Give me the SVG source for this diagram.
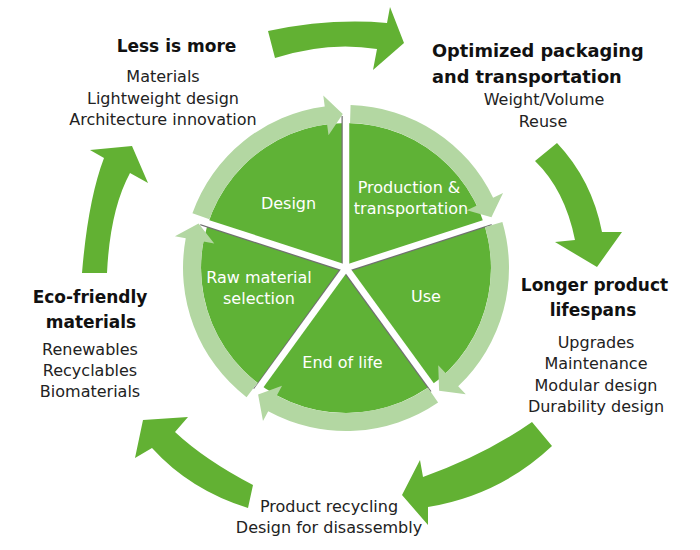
<svg xmlns="http://www.w3.org/2000/svg" xmlns:xlink="http://www.w3.org/1999/xlink" width="700" height="550" viewBox="0 0 700 550">
<defs>
<style>
.arrow{fill:#62b133}
.ring{fill:#b3d7a2}
.pie{fill:#5fb236}
.gap{stroke:#ffffff;stroke-width:6.5}
.shadow{stroke:#707070;stroke-width:2}
.title{font-family:"DejaVu Sans",sans-serif;font-weight:bold;font-size:17px;fill:#111}
.big{font-size:17.8px}
.sub{font-family:"DejaVu Sans",sans-serif;font-size:16px;fill:#222;text-anchor:middle}
.lbl{font-family:"DejaVu Sans",sans-serif;font-size:16px;fill:#ffffff;text-anchor:middle}
</style>
<path id="ringArrow" class="ring" d="M -153.56 -54.69 A 163 163 0 0 1 -21.27 -161.60 L -22.71 -172.50 L -3.22 -153.97 L -17.49 -132.85 L -18.92 -143.75 A 145 145 0 0 0 -136.60 -48.65 Z"/>
</defs>
<rect width="700" height="550" fill="#ffffff"/>

<g id="connectors">
<path class="arrow" d="M 268 31 Q 330 18 387 23 L 390 7 L 404 43 L 373 70 L 377 49 Q 328 41 275 58 Z"/>
<path class="arrow" d="M 557 143 Q 592 180 602 232 L 622 232 L 597 267 L 555 242 L 575 240 Q 565 190 535 161 Z"/>
<path class="arrow" d="M 532 422 Q 485 455 423 477 L 420 460 L 402 495 L 428 525 L 428 507 Q 500 495 552 446 Z"/>
<path class="arrow" d="M 253 485 Q 205 460 175 432 L 188 417 L 143 420 L 135 458 L 152 448 Q 190 490 248 508 Z"/>
<path class="arrow" d="M 82 273 Q 88 200 104 158 L 90 150 L 132 146 L 148 183 L 130 173 Q 110 210 107 273 Z"/>
</g>

<g id="cycle" transform="translate(346,268)">
<circle class="pie" cx="0" cy="0" r="145"/>
<g id="separators">
<line class="shadow" x1="-3.5" y1="0" x2="-3.5" y2="-152"/>
<line class="shadow" x1="1.08" y1="3.33" x2="145.6" y2="-43.6"/>
<line class="shadow" x1="-2.83" y1="2.06" x2="85.3" y2="123.3"/>
<line class="shadow" x1="-2.83" y1="-2.06" x2="-91.9" y2="121.2"/>
<line class="shadow" x1="-1.08" y1="3.33" x2="-145.6" y2="-43.6"/>
<line class="gap" x1="0" y1="0" x2="0" y2="-170"/>
<line class="gap" x1="0" y1="0" x2="161.7" y2="-52.5"/>
<line class="gap" x1="0" y1="0" x2="99.9" y2="137.5"/>
<line class="gap" x1="0" y1="0" x2="-99.9" y2="137.5"/>
<line class="gap" x1="0" y1="0" x2="-161.7" y2="-52.5"/>
</g>
<use xlink:href="#ringArrow" href="#ringArrow"/>
<use xlink:href="#ringArrow" href="#ringArrow" transform="rotate(72)"/>
<use xlink:href="#ringArrow" href="#ringArrow" transform="rotate(144)"/>
<use xlink:href="#ringArrow" href="#ringArrow" transform="rotate(216)"/>
<use xlink:href="#ringArrow" href="#ringArrow" transform="rotate(288)"/>
</g>

<g id="design"><text class="lbl" x="288.5" y="209">Design</text></g>
<g id="production"><text class="lbl" x="409" y="193">Production &amp;</text><text class="lbl" x="411" y="214">transportation</text></g>
<g id="use"><text class="lbl" x="426" y="302">Use</text></g>
<g id="end-of-life"><text class="lbl" x="342.5" y="368">End of life</text></g>
<g id="raw-material"><text class="lbl" x="259" y="283">Raw material</text><text class="lbl" x="259" y="304">selection</text></g>

<g id="less-is-more">
<text class="title" x="176.5" y="52" text-anchor="middle">Less is more</text>
<text class="sub" x="163" y="82">Materials</text>
<text class="sub" x="163" y="104">Lightweight design</text>
<text class="sub" x="163" y="125">Architecture innovation</text>
</g>
<g id="packaging">
<text class="title big" x="432" y="57">Optimized packaging</text>
<text class="title big" x="432" y="83">and transportation</text>
<text class="sub" x="544" y="105">Weight/Volume</text>
<text class="sub" x="543" y="127">Reuse</text>
</g>
<g id="lifespans">
<text class="title" x="594.5" y="291" text-anchor="middle">Longer product</text>
<text class="title" x="593" y="316" text-anchor="middle">lifespans</text>
<text class="sub" x="596" y="348">Upgrades</text>
<text class="sub" x="596" y="369">Maintenance</text>
<text class="sub" x="596" y="391">Modular design</text>
<text class="sub" x="596" y="412">Durability design</text>
</g>
<g id="end-of-life-outer">
<text class="sub" x="329" y="512">Product recycling</text>
<text class="sub" x="329" y="533">Design for disassembly</text>
</g>
<g id="eco-materials">
<text class="title" x="90" y="303" text-anchor="middle">Eco-friendly</text>
<text class="title" x="91" y="328" text-anchor="middle">materials</text>
<text class="sub" x="90" y="355">Renewables</text>
<text class="sub" x="90" y="376">Recyclables</text>
<text class="sub" x="90" y="397">Biomaterials</text>
</g>
</svg>
